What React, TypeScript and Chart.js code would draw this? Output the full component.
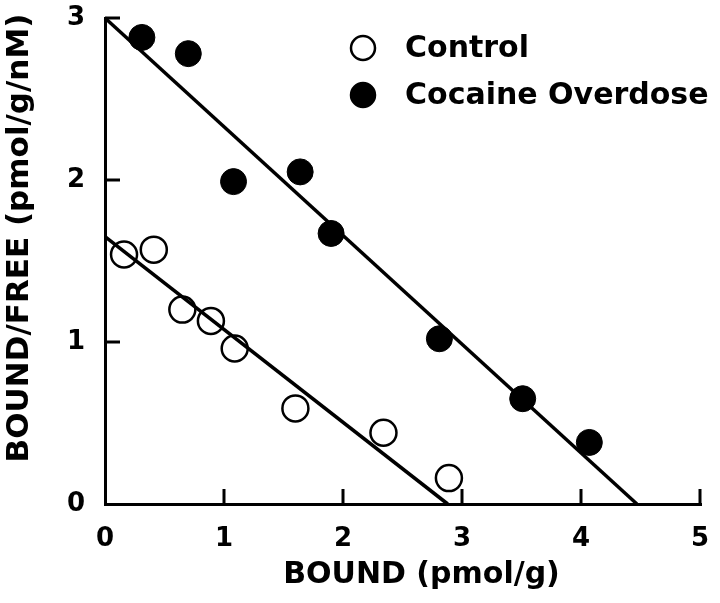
import { useEffect, useRef } from "react";
import { Chart, registerables } from "chart.js";

Chart.register(...registerables);

// ---- data ----
const controlBound = [0.16, 0.41, 0.65, 0.89, 1.09, 1.6, 2.34, 2.89];
const controlRatio = [1.54, 1.57, 1.2, 1.13, 0.96, 0.59, 0.44, 0.16];
const cocaineBound = [0.31, 0.7, 1.08, 1.64, 1.9, 2.81, 3.51, 4.07];
const cocaineRatio = [2.88, 2.78, 1.99, 2.05, 1.67, 1.02, 0.65, 0.38];

const controlFitBound = [0, 2.88];
const controlFitRatio = [1.65, 0];
const cocaineFitBound = [0, 4.47];
const cocaineFitRatio = [3.0, 0];

const xTickValues = [0, 1, 2, 3, 4, 5];
const yTickValues = [0, 1, 2, 3];
const seriesLabels = ["Control", "Cocaine Overdose"];
const xTitle = "BOUND (pmol/g)";
const yTitle = "BOUND/FREE (pmol/g/nM)";

const FONT = "'DejaVu Sans', 'Liberation Sans', Arial, sans-serif";

const toPoints = (xs: number[], ys: number[]) => xs.map((x, i) => ({ x, y: ys[i] }));

const inwardTicks = {
  id: "inwardTicks",
  afterDatasetsDraw(chart: any) {
    const { ctx, chartArea, scales } = chart;
    ctx.save();
    ctx.strokeStyle = "#000";
    ctx.lineWidth = 3;
    ctx.lineCap = "butt";
    scales.x.ticks.forEach((t: any) => {
      if (t.value === 0) return;
      const px = scales.x.getPixelForValue(t.value);
      ctx.beginPath();
      ctx.moveTo(px, chartArea.bottom);
      ctx.lineTo(px, chartArea.bottom - 15);
      ctx.stroke();
    });
    scales.y.ticks.forEach((t: any) => {
      if (t.value === 0) return;
      const py = scales.y.getPixelForValue(t.value);
      ctx.beginPath();
      ctx.moveTo(chartArea.left, py);
      ctx.lineTo(chartArea.left + 15, py);
      ctx.stroke();
    });
    ctx.restore();
  },
};

const axisTitles = {
  id: "axisTitles",
  afterDraw(chart: any) {
    const { ctx, chartArea } = chart;
    ctx.save();
    ctx.fillStyle = "#000";
    ctx.textAlign = "center";
    ctx.textBaseline = "middle";
    ctx.font = `bold 30px ${FONT}`;
    const cx = (chartArea.left + chartArea.right) / 2 + 19;
    ctx.fillText(xTitle, cx, chartArea.bottom + 71);
    ctx.font = `bold 31px ${FONT}`;
    const cy = (chartArea.top + chartArea.bottom) / 2 - 23;
    ctx.translate(20, cy);
    ctx.rotate(-Math.PI / 2);
    ctx.fillText(yTitle, 0, 0);
    ctx.restore();
  },
};

const customLegend = {
  id: "customLegend",
  afterDraw(chart: any) {
    const { ctx } = chart;
    const items = [0, 1].map((i) => chart.data.datasets[i]);
    const cx = 363;
    const textX = 405;
    const rowsY = [48, 95];
    ctx.save();
    ctx.font = `bold 30px ${FONT}`;
    ctx.textAlign = "left";
    ctx.textBaseline = "middle";
    items.forEach((ds: any, i: number) => {
      const cy = rowsY[i];
      ctx.beginPath();
      ctx.arc(cx, cy, 12, 0, Math.PI * 2);
      if (ds.pointBackgroundColor && ds.pointBackgroundColor !== "rgba(0,0,0,0)") {
        ctx.fillStyle = ds.pointBackgroundColor;
        ctx.fill();
      }
      ctx.lineWidth = 2.5;
      ctx.strokeStyle = "#000";
      ctx.stroke();
      ctx.fillStyle = "#000";
      ctx.fillText(ds.label, textX, cy + 1);
    });
    ctx.restore();
  },
};

export default function App() {
  const ref = useRef<HTMLCanvasElement | null>(null);

  useEffect(() => {
    if (!ref.current) return;
    Chart.defaults.color = "#000";
    const chart = new Chart(ref.current, {
      type: "scatter",
      data: {
        datasets: [
          {
            label: seriesLabels[0],
            data: toPoints(controlBound, controlRatio),
            pointRadius: 13,
            pointHoverRadius: 13,
            pointBackgroundColor: "rgba(0,0,0,0)",
            pointBorderColor: "#000",
            pointBorderWidth: 2.5,
            showLine: false,
            clip: false,
          } as any,
          {
            label: seriesLabels[1],
            data: toPoints(cocaineBound, cocaineRatio),
            pointRadius: 13,
            pointHoverRadius: 13,
            pointBackgroundColor: "#000",
            pointBorderColor: "#000",
            pointBorderWidth: 1,
            showLine: false,
            clip: false,
          } as any,
          {
            label: "Control fit",
            data: toPoints(controlFitBound, controlFitRatio),
            showLine: true,
            tension: 0,
            borderColor: "#000",
            borderWidth: 3.5,
            pointRadius: 0,
            clip: false,
          } as any,
          {
            label: "Cocaine fit",
            data: toPoints(cocaineFitBound, cocaineFitRatio),
            showLine: true,
            tension: 0,
            borderColor: "#000",
            borderWidth: 3.5,
            pointRadius: 0,
            clip: false,
          } as any,
        ],
      },
      options: {
        responsive: false,
        maintainAspectRatio: false,
        animation: false,
        devicePixelRatio: 1,
        layout: { padding: { top: 18, right: 20, left: 0, bottom: 0 } },
        plugins: {
          legend: { display: false },
          tooltip: { enabled: false },
          title: { display: false },
        },
        scales: {
          x: {
            type: "linear",
            min: xTickValues[0],
            max: xTickValues[xTickValues.length - 1],
            afterFit: (s: any) => {
              s.height = 99;
              s.paddingLeft = 0;
              s.paddingRight = 0;
            },
            afterBuildTicks: (s: any) => {
              s.ticks = xTickValues.map((v) => ({ value: v }));
            },
            ticks: {
              padding: 20,
              color: "#000",
              font: { family: FONT, size: 26, weight: "bold" },
              callback: (v: any) => String(v),
              maxRotation: 0,
            },
            grid: { display: true, drawOnChartArea: false, drawTicks: false, lineWidth: 3, color: "#000" },
            border: { display: true, color: "#000", width: 3 },
            title: { display: false },
          },
          y: {
            type: "linear",
            min: yTickValues[0],
            max: yTickValues[yTickValues.length - 1],
            afterFit: (s: any) => {
              s.width = 105;
              s.paddingTop = 0;
              s.paddingBottom = 0;
            },
            afterBuildTicks: (s: any) => {
              s.ticks = yTickValues.map((v) => ({ value: v }));
            },
            ticks: {
              padding: 20,
              color: "#000",
              font: { family: FONT, size: 26, weight: "bold" },
              callback: (v: any) => String(v),
            },
            grid: { display: true, drawOnChartArea: false, drawTicks: false, lineWidth: 3, color: "#000" },
            border: { display: true, color: "#000", width: 3 },
            title: { display: false },
          },
        },
      },
      plugins: [inwardTicks, axisTitles, customLegend],
    });
    return () => chart.destroy();
  }, []);

  return (
    <div style={{ position: "absolute", left: 0, top: 0, width: 720, height: 603, background: "#fff" }}>
      <canvas ref={ref} width={720} height={603} style={{ display: "block" }} />
    </div>
  );
}
